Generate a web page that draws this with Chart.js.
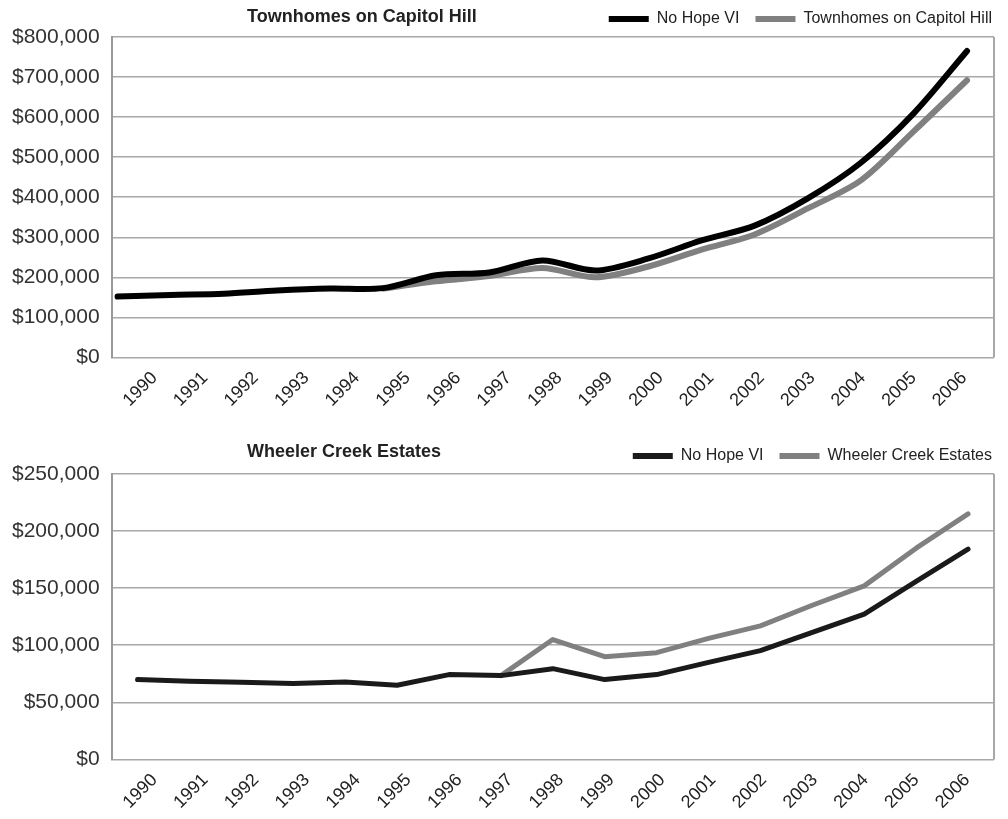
<!DOCTYPE html>
<html>
<head>
<meta charset="utf-8">
<script src="https://cdn.jsdelivr.net/npm/chart.js@4.4.0/dist/chart.umd.min.js"></script>
<style>
  body { margin: 0; background: #fff; }
  #wrap { position: relative; width: 1008px; height: 819px; }
  .box { position: absolute; left: 0; width: 1008px; }
  #topBox { top: 0; height: 420px; }
  #botBox { top: 420px; height: 399px; }
</style>
</head>
<body>
<div id="wrap">
  <div class="box" id="topBox"><canvas id="capitolChart"></canvas></div>
  <div class="box" id="botBox"><canvas id="wheelerChart"></canvas></div>
</div>
<script>
var years = [1990, 1991, 1992, 1993, 1994, 1995, 1996, 1997, 1998, 1999, 2000, 2001, 2002, 2003, 2004, 2005, 2006];
var yearLabels = ['1990', '1991', '1992', '1993', '1994', '1995', '1996', '1997', '1998', '1999', '2000', '2001', '2002', '2003', '2004', '2005', '2006'];

// Townhomes on Capitol Hill
var capitolNoHope = [152000, 156000, 159000, 167000, 172000, 173000, 205000, 212000, 242000, 217000, 247000, 292000, 329000, 397000, 486000, 610000, 765000];
var capitolTownhomes = [null, null, null, null, null, 172000, 190000, 203000, 223000, 200000, 227000, 269000, 307000, 372000, 442000, 565000, 692000];
var capitolTicks = [0, 100000, 200000, 300000, 400000, 500000, 600000, 700000, 800000];

// Wheeler Creek Estates
var wheelerNoHope = [70000, 68500, 67600, 66400, 67900, 65000, 74300, 73400, 79500, 69900, 74300, 85000, 95300, 111300, 127300, 155900, 184200];
var wheelerEstates = [null, null, null, null, null, null, null, 73400, 105000, 90000, 93500, 106000, 117000, 135000, 152000, 185000, 215000];
var wheelerTicks = [0, 50000, 100000, 150000, 200000, 250000];

var FONT = '"Liberation Sans", Arial, Helvetica, sans-serif';

function toPoints(values) {
    return years.map(function (yr, i) { return { x: yr, y: values[i] }; });
}

function money(v) {
    return '$' + Number(v).toLocaleString('en-US');
}

// chart title drawn on the legend row, left side
var sideTitle = {
    id: 'sideTitle',
    afterDraw: function (chart, args, opts) {
        var ctx = chart.ctx;
        ctx.save();
        ctx.font = 'bold 18px ' + FONT;
        ctx.fillStyle = '#222';
        ctx.textBaseline = 'middle';
        ctx.fillText(opts.text, opts.x, opts.y);
        ctx.restore();
    }
};

// right edge of the plot box
var rightFrame = {
    id: 'rightFrame',
    beforeDatasetsDraw: function (chart) {
        var a = chart.chartArea, ctx = chart.ctx;
        ctx.save();
        ctx.strokeStyle = '#a8a8a8';
        ctx.lineWidth = 2;
        ctx.beginPath();
        ctx.moveTo(a.right, a.top);
        ctx.lineTo(a.right, a.bottom);
        ctx.stroke();
        ctx.restore();
    }
};

function makeChart(id, s) {
    return new Chart(document.getElementById(id), {
        type: 'line',
        data: {
            datasets: [{
                label: 'No Hope VI',
                data: toPoints(s.noHope),
                borderColor: s.black,
                backgroundColor: s.black,
                borderWidth: s.lw,
                tension: s.tension
            }, {
                label: s.name,
                data: toPoints(s.other),
                borderColor: '#808080',
                backgroundColor: '#808080',
                borderWidth: s.lw,
                tension: s.tension
            }]
        },
        options: {
            responsive: true,
            maintainAspectRatio: false,
            animation: false,
            layout: { padding: { left: 0, right: 0, top: s.padTop, bottom: s.padBottom } },
            elements: {
                point: { radius: 0 },
                line: { borderCapStyle: 'round', borderJoinStyle: 'round' }
            },
            plugins: {
                tooltip: { enabled: false },
                sideTitle: { text: s.name, x: 247, y: s.titleY },
                legend: {
                    position: 'top',
                    align: 'end',
                    labels: {
                        boxWidth: 40,
                        boxHeight: 6,
                        padding: 16,
                        color: '#222',
                        font: { family: FONT, size: 16 },
                        generateLabels: function (chart) {
                            var items = Chart.defaults.plugins.legend.labels.generateLabels(chart);
                            items.forEach(function (it) { it.lineWidth = 0; });
                            return items;
                        }
                    }
                }
            },
            scales: {
                x: { type: 'linear', display: false, min: s.xMin, max: s.xMax },
                xt: {
                    type: 'linear',
                    position: 'bottom',
                    min: s.tMin,
                    max: s.tMax,
                    grid: { display: false, drawTicks: false },
                    border: { display: false },
                    afterBuildTicks: function (axis) {
                        axis.ticks = years.map(function (v) { return { value: v }; });
                    },
                    ticks: {
                        autoSkip: false,
                        minRotation: 45,
                        maxRotation: 45,
                        padding: 10,
                        color: '#222',
                        font: { family: FONT, size: 18 },
                        callback: function (v) { return yearLabels[years.indexOf(v)]; }
                    }
                },
                y: {
                    min: 0,
                    max: s.ticks[s.ticks.length - 1],
                    afterBuildTicks: function (axis) {
                        axis.ticks = s.ticks.map(function (v) { return { value: v }; });
                    },
                    grid: { color: '#a8a8a8', lineWidth: 1.5, drawTicks: false },
                    border: { color: '#999', width: 2 },
                    ticks: {
                        padding: 12,
                        color: '#333',
                        font: { family: FONT, size: 21 },
                        callback: money
                    }
                },
                // empty right-hand axis, only keeps a margin beside the plot
                yr: {
                    position: 'right',
                    min: 0,
                    max: 1,
                    grid: { display: false, drawTicks: false },
                    border: { display: false },
                    ticks: { display: false },
                    afterFit: function (axis) { axis.width = 14; }
                }
            }
        },
        plugins: [sideTitle, rightFrame]
    });
}

makeChart('capitolChart', {
    name: 'Townhomes on Capitol Hill',
    noHope: capitolNoHope,
    other: capitolTownhomes,
    ticks: capitolTicks,
    black: '#000000',
    lw: 6,
    tension: 0.3,
    xMin: 1989.887, xMax: 2006.508,
    tMin: 1989.152, tMax: 2006.592,
    padTop: -5, padBottom: -1, titleY: 17
});

makeChart('wheelerChart', {
    name: 'Wheeler Creek Estates',
    noHope: wheelerNoHope,
    other: wheelerEstates,
    ticks: wheelerTicks,
    black: '#1a1a1a',
    lw: 5,
    tension: 0,
    xMin: 1989.5, xMax: 2006.5,
    tMin: 1989.155, tMax: 2006.53,
    padTop: 12, padBottom: -4, titleY: 32
});
</script>
</body>
</html>
